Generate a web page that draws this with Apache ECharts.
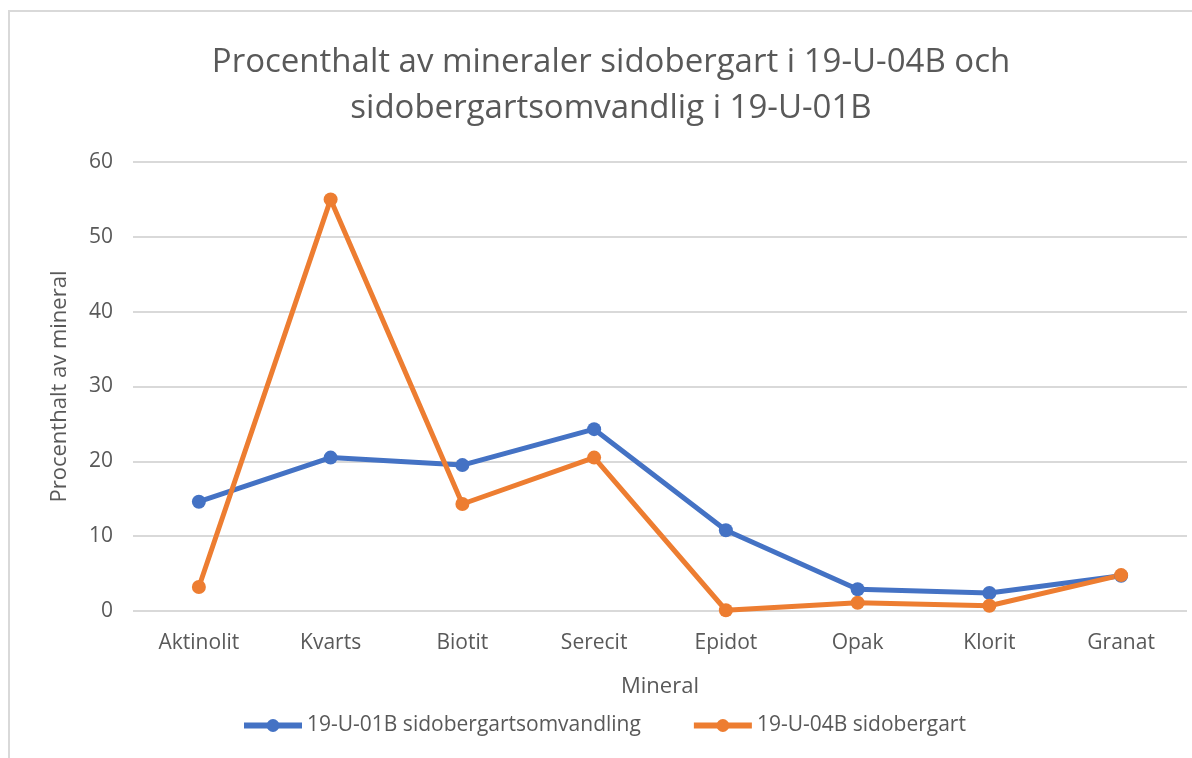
<!DOCTYPE html>
<html>
<head>
<meta charset="utf-8">
<script src="https://cdn.jsdelivr.net/npm/echarts@6/dist/echarts.min.js"></script>
<style>
  html, body { margin: 0; padding: 0; background: #fff; }
  #frame { position: absolute; left: 8px; top: 10px; width: 1200px; height: 760px; border: 2px solid #d9d9d9; box-sizing: border-box; }
  #chart { position: absolute; left: 0; top: 0; width: 1192px; height: 758px; }
</style>
</head>
<body>
<div id="frame"></div>
<div id="chart"></div>
<script>
var mineraler = ["Aktinolit", "Kvarts", "Biotit", "Serecit", "Epidot", "Opak", "Klorit", "Granat"];
var omvandling01B = [14.6, 20.5, 19.5, 24.3, 10.8, 2.9, 2.4, 4.7];
var sidobergart04B = [3.2, 55, 14.3, 20.5, 0.1, 1.1, 0.7, 4.8];
var serieNamn = ["19-U-01B sidobergartsomvandling", "19-U-04B sidobergart"];

var font = "'Open Sans', sans-serif";
var grå = "#595959";

var chart = echarts.init(document.getElementById("chart"));
var option = {
  animation: false,
  title: {
    text: "Procenthalt av mineraler sidobergart i 19-U-04B och\nsidobergartsomvandlig i 19-U-01B",
    left: 606,
    textAlign: "center",
    top: 35,
    textStyle: { fontFamily: font, fontSize: 33, fontWeight: "normal", color: grå, lineHeight: 46 }
  },
  legend: {
    bottom: 17,
    left: 236,
    itemWidth: 58,
    itemHeight: 16,
    itemGap: 50,
    lineStyle: { width: 6 },
    textStyle: { fontFamily: font, fontSize: 21, color: grå },
    data: serieNamn
  },
  grid: { left: 133, right: 5, top: 162, bottom: 147 },
  xAxis: {
    type: "category",
    data: mineraler,
    name: "Mineral",
    nameLocation: "middle",
    nameGap: 65,
    nameTextStyle: { fontFamily: font, fontSize: 22, color: grå },
    axisLine: { show: false },
    axisTick: { show: false },
    axisLabel: { fontFamily: font, fontSize: 21, color: grå, margin: 22 }
  },
  yAxis: {
    type: "value",
    min: 0,
    max: 60,
    interval: 10,
    name: "Procenthalt av mineral",
    nameLocation: "middle",
    nameGap: 62,
    nameTextStyle: { fontFamily: font, fontSize: 22, color: grå },
    axisLabel: { fontFamily: font, fontSize: 21, color: grå, margin: 20 },
    splitLine: { lineStyle: { color: "#d9d9d9", width: 2 } }
  },
  series: [
    {
      name: serieNamn[0],
      type: "line",
      data: omvandling01B,
      symbol: "circle",
      symbolSize: 14,
      itemStyle: { color: "#4472C4" },
      lineStyle: { width: 5, color: "#4472C4" }
    },
    {
      name: serieNamn[1],
      type: "line",
      data: sidobergart04B,
      symbol: "circle",
      symbolSize: 14,
      itemStyle: { color: "#ED7D31" },
      lineStyle: { width: 5, color: "#ED7D31" }
    }
  ]
};
chart.setOption(option);
</script>
</body>
</html>
